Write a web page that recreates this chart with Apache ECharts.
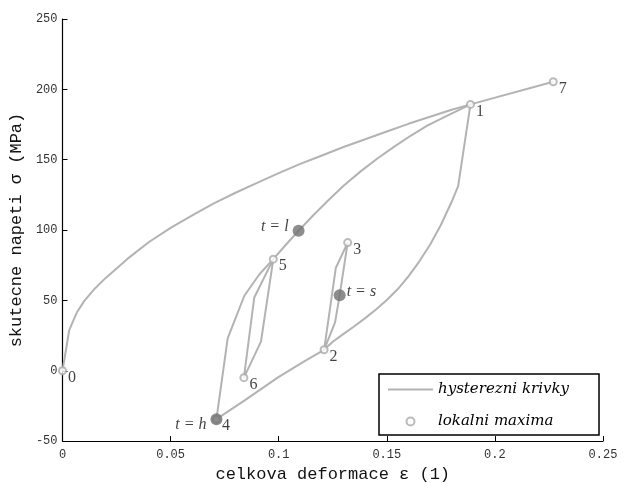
<!DOCTYPE html>
<html>
<head>
<meta charset="utf-8">
<script src="https://cdn.jsdelivr.net/npm/echarts@6/dist/echarts.min.js"></script>
<style>
  html, body { margin: 0; padding: 0; background: #fff; }
  #chart { width: 630px; height: 488px; }
</style>
</head>
<body>
<div id="chart"></div>
<script>
// Hysteresis branches: total strain (1) and true stress (MPa), in loading order
// 0 -> 1 -> 2 -> 3 -> 2 -> 4 -> 5 -> 6 -> 5 -> 1 -> 7

// initial loading 0 -> 1
var loadStrain = [0, 0.0031, 0.0065, 0.01, 0.015, 0.02, 0.03, 0.04, 0.05, 0.06, 0.07, 0.08, 0.09, 0.10, 0.11, 0.12, 0.13, 0.14, 0.15, 0.16, 0.17, 0.18, 0.1887];
var loadStress = [0, 28.8, 41.0, 49.5, 58.5, 66.0, 79.5, 91.5, 101.5, 110.5, 119.0, 126.5, 133.5, 140.5, 147.0, 153.0, 159.0, 164.5, 170.0, 175.5, 180.5, 185.5, 189.3];

// unloading 1 -> 2 -> 4 (elastic drop, then curved branch)
var unloadStrain = [0.1887, 0.183, 0.18, 0.175, 0.17, 0.165, 0.16, 0.155, 0.15, 0.145, 0.14, 0.135, 0.13, 0.125, 0.121, 0.1118, 0.0995, 0.0841, 0.0712];
var unloadStress = [189.3, 131.2, 120.1, 103.6, 89.6, 77.6, 67.1, 57.9, 50.3, 43.6, 37.4, 31.6, 26.2, 20.6, 14.9, 6.7, -4.9, -21.2, -34.4];

// minor loop 2 -> 3 -> 2
var loopAStrain = [0.121, 0.1264, 0.1319, 0.1282, 0.1261, 0.121];
var loopAStress = [14.9, 73.0, 91.1, 53.7, 34.6, 14.9];

// reloading 4 -> 5
var reloadStrain = [0.0712, 0.0764, 0.0841, 0.091, 0.0975];
var reloadStress = [-34.4, 23.0, 53.3, 68.4, 79.3];

// minor loop 5 -> 6 -> 5
var loopBStrain = [0.0975, 0.0918, 0.0839, 0.0887, 0.0975];
var loopBStress = [79.3, 20.7, -4.9, 52.1, 79.3];

// reloading 5 -> 1
var finalStrain = [0.0975, 0.103, 0.1092, 0.116, 0.1226, 0.13, 0.1379, 0.1455, 0.1533, 0.161, 0.1687, 0.178, 0.1887];
var finalStress = [79.3, 89.0, 99.5, 110.5, 120.7, 131.5, 141.7, 150.7, 159.1, 167.0, 174.2, 181.4, 189.3];

// further loading 1 -> 7
var lastStrain = [0.1887, 0.227];
var lastStress = [189.3, 205.4];

// Local extrema (turning points) of the path
var maxStrain = [0, 0.1887, 0.121, 0.1319, 0.0712, 0.0975, 0.0839, 0.227];
var maxStress = [0, 189.3, 14.9, 91.1, -34.4, 79.3, -4.9, 205.4];
var maxLabels = ['0', '1', '2', '3', '4', '5', '6', '7'];

// Marked states on the path
var stateStrain = [0.1092, 0.1282, 0.0712];
var stateStress = [99.5, 53.7, -34.4];
var stateLabels = ['t = l', 't = s', 't = h'];

// Axis ticks
var xTicks = { min: 0, max: 0.25, step: 0.05 };
var yTicks = { min: -50, max: 250, step: 50 };

var seriesNames = ['hysterezni krivky', 'lokalni maxima'];

function zip(a, b) { return a.map(function (v, i) { return [v, b[i]]; }); }

var mono = '"Liberation Mono", "DejaVu Sans Mono", monospace';
var serif = '"Liberation Serif", "DejaVu Serif", serif';
var serifWide = '"DejaVu Serif", "Liberation Serif", serif';
var curveColor = '#b3b3b3';

function branch(strain, stress) {
  return {
    name: seriesNames[0],
    type: 'line',
    data: zip(strain, stress),
    symbol: 'none',
    smooth: false,
    lineStyle: { color: curveColor, width: 2, join: 'round' },
    itemStyle: { color: curveColor },
    z: 2
  };
}

var stateSides = ['left', 'right', 'left'];
var stateOffsets = [[0, -4], [0, -3], [0, 6]];
var stateDistances = [4, 1, 4];
var stateData = stateStrain.map(function (x, i) {
  return {
    value: [x, stateStress[i]],
    name: stateLabels[i],
    label: {
      show: true,
      position: stateSides[i],
      distance: stateDistances[i],
      offset: stateOffsets[i],
      formatter: stateLabels[i]
    }
  };
});

var maxData = maxStrain.map(function (x, i) {
  return { value: [x, maxStress[i]], name: maxLabels[i] };
});

var chart = echarts.init(document.getElementById('chart'), null, { renderer: 'canvas' });
chart.setOption({
  animation: false,
  backgroundColor: '#fff',
  grid: { left: 61, right: 27, top: 19, bottom: 40, containLabel: false },
  xAxis: {
    type: 'value',
    min: xTicks.min, max: xTicks.max, interval: xTicks.step,
    name: 'celkova deformace ε (1)',
    nameLocation: 'middle',
    nameGap: 24,
    nameTextStyle: { fontFamily: mono, fontSize: 17, color: '#111' },
    axisLine: { show: true, onZero: false, lineStyle: { color: '#000', width: 1.2 } },
    axisTick: { show: true, inside: true, length: 5, lineStyle: { color: '#000', width: 1 } },
    axisLabel: { fontFamily: mono, fontSize: 12, color: '#333', margin: 8 },
    splitLine: { show: false }
  },
  yAxis: {
    type: 'value',
    min: yTicks.min, max: yTicks.max, interval: yTicks.step,
    name: 'skutecne napeti σ (MPa)',
    nameLocation: 'middle',
    nameGap: 24,
    nameTextStyle: { fontFamily: mono, fontSize: 17, color: '#111' },
    axisLine: { show: true, onZero: false, lineStyle: { color: '#000', width: 1.2 } },
    axisTick: { show: true, inside: true, length: 5, lineStyle: { color: '#000', width: 1 } },
    axisLabel: { fontFamily: mono, fontSize: 12, color: '#333', margin: 5 },
    splitLine: { show: false }
  },
  legend: {
    orient: 'vertical',
    left: 379,
    top: 374,
    data: [
      { name: seriesNames[0], icon: 'path://M0,0 L45,0 L45,2 L0,2 Z' },
      { name: seriesNames[1] }
    ],
    itemWidth: 45,
    itemHeight: 8,
    itemGap: 17,
    padding: [8, 30, 6, 9],
    borderColor: '#000',
    borderWidth: 1.5,
    borderRadius: 0,
    backgroundColor: '#fff',
    textStyle: { fontFamily: serifWide, fontStyle: 'italic', fontSize: 15, color: '#000' }
  },
  series: [
    branch(loadStrain, loadStress),
    branch(unloadStrain, unloadStress),
    branch(loopAStrain, loopAStress),
    branch(reloadStrain, reloadStress),
    branch(loopBStrain, loopBStress),
    branch(finalStrain, finalStress),
    branch(lastStrain, lastStress),
    {
      name: seriesNames[1],
      type: 'scatter',
      data: maxData,
      symbol: 'emptyCircle',
      symbolSize: 7,
      itemStyle: { color: '#aaaaaa', borderWidth: 1.6 },
      label: {
        show: true,
        position: 'right',
        distance: 1,
        offset: [0, 7],
        formatter: function (p) { return p.name; },
        fontFamily: serif, fontSize: 16, color: '#111'
      },
      z: 3
    },
    {
      name: 'stavy',
      type: 'scatter',
      data: stateData,
      symbol: 'circle',
      symbolSize: 12,
      itemStyle: { color: '#707070' },
      label: { fontFamily: serif, fontStyle: 'italic', fontSize: 16, color: '#111' },
      z: 4
    }
  ]
});
</script>
</body>
</html>
